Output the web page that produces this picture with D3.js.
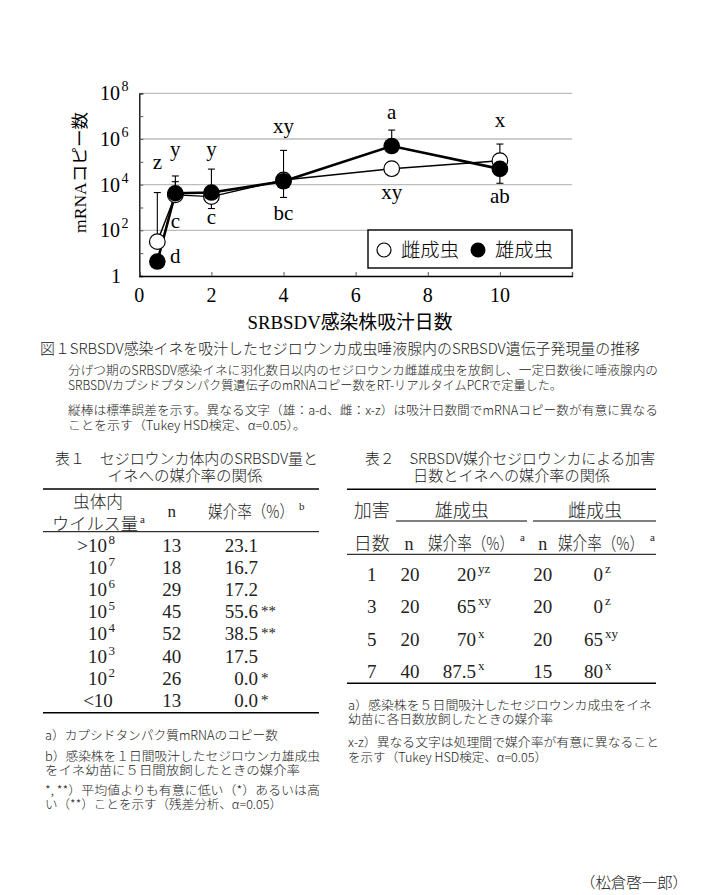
<!DOCTYPE html>
<html><head><meta charset="utf-8">
<script src="https://cdn.jsdelivr.net/npm/d3@7"></script>
<style>body{margin:0;background:#fff}svg{display:block}</style>
</head><body>
<script>
// ---------- data ----------
const days = [0.5, 1, 2, 4, 7, 10];
const femaleCopies = [32, 3550, 3000, 16000, 50000, 112000];
const maleCopies = [4.3, 4200, 4500, 14000, 490000, 49000];
const femaleErrHigh = [4500, 13500, null, null, null, 600000];
const maleErrHigh = [null, 24000, 48000, 316000, 2450000, null];
const maleErrLow = [null, 2000, 900, 2750, null, 11500];
const femaleLetters = ["z", "y", "y", "xy", "xy", "x"];
const femaleLetterAt = [49000, 178000, 178000, 1820000, 2340, 3470000];
const maleLetters = ["d", "c", "c", "bc", "a", "ab"];
const maleLetterAt = [3.8, 126, 190, 282, 7410000, 1620];
const xTicks = [0, 2, 4, 6, 8, 10, 12];
const xTickLabels = ["0", "2", "4", "6", "8", "10", ""];
const yTicks = [1, 1e1, 1e2, 1e3, 1e4, 1e5, 1e6, 1e7, 1e8];
const yLabelExp = [0, 2, 4, 6, 8];
const legendLabels = ["雌成虫", "雄成虫"];

const t1Virus = [[">10", "8"], ["10", "7"], ["10", "6"], ["10", "5"], ["10", "4"], ["10", "3"], ["10", "2"], ["<10", ""]];
const t1N = [13, 18, 29, 45, 52, 40, 26, 13];
const t1Rate = ["23.1", "16.7", "17.2", "55.6", "38.5", "17.5", "0.0", "0.0"];
const t1Sig = ["", "", "", "**", "**", "", "*", "*"];

const t2Days = [1, 3, 5, 7];
const t2MaleN = [20, 20, 20, 40];
const t2MaleRate = ["20", "65", "70", "87.5"];
const t2MaleSig = ["yz", "xy", "x", "x"];
const t2FemaleN = [20, 20, 20, 15];
const t2FemaleRate = ["0", "0", "65", "80"];
const t2FemaleSig = ["z", "z", "xy", "x"];

// ---------- setup ----------
const SERIF = "'Liberation Serif','Noto Sans CJK JP',serif";
const JP = "'Noto Sans CJK JP','Liberation Serif',sans-serif";
const svg = d3.select("body").append("svg").attr("width", 705).attr("height", 895);
svg.append("rect").attr("width", 705).attr("height", 895).attr("fill", "#fff");

const x = d3.scaleLinear().domain([0, 12]).range([139.3, 572]);
const y = d3.scaleLog().domain([1, 1e8]).range([276, 93.3]);

const g = svg.append("g");
g.selectAll(".grid").data([1e2, 1e4, 1e6, 1e8]).join("line")
  .attr("x1", x(0)).attr("x2", x(12)).attr("y1", d => y(d)).attr("y2", d => y(d))
  .attr("stroke", "#bdbdbd").attr("stroke-width", 1.3);

const yAxis = d3.axisLeft(y).tickValues(yTicks).tickSize(-4).tickFormat("");
g.append("g").attr("transform", `translate(${x(0)},0)`).call(yAxis)
  .call(s => { s.select(".domain").attr("stroke", "#000").attr("stroke-width", 1.3); s.selectAll(".tick line").attr("stroke", "#555"); });
const xAxis = d3.axisBottom(x).tickValues(xTicks).tickSize(-4).tickFormat("");
g.append("g").attr("transform", `translate(0,${y(1)})`).call(xAxis)
  .call(s => { s.select(".domain").attr("stroke", "#000").attr("stroke-width", 1.3); s.selectAll(".tick line").attr("stroke", "#555"); });

yLabelExp.forEach(e => {
  const yy = y(Math.pow(10, e)) + 7;
  if (e === 0) {
    g.append("text").attr("x", 121).attr("y", yy).attr("text-anchor", "end").attr("font-family", SERIF).attr("font-size", 20).text("1");
  } else {
    g.append("text").attr("x", 120).attr("y", yy).attr("text-anchor", "end").attr("font-family", SERIF).attr("font-size", 20).text("10");
    g.append("text").attr("x", 121.5).attr("y", yy - 9).attr("font-family", SERIF).attr("font-size", 14).text(e);
  }
});
xTicks.forEach((v, i) => {
  g.append("text").attr("x", x(v)).attr("y", 302).attr("text-anchor", "middle")
    .attr("font-family", SERIF).attr("font-size", 20).text(xTickLabels[i]);
});
g.append("text").attr("transform", `translate(86,172.5) rotate(-90)`).attr("text-anchor", "middle")
  .attr("font-family", SERIF).attr("font-size", 17).attr("textLength", 121).attr("lengthAdjust", "spacingAndGlyphs")
  .text("mRNAコピー数");
g.append("text").attr("x", 350).attr("y", 329).attr("text-anchor", "middle")
  .attr("font-family", SERIF).attr("font-size", 19).attr("textLength", 205).attr("lengthAdjust", "spacingAndGlyphs")
  .text("SRBSDV感染株吸汁日数");

function errBars(vals, highs, lows) {
  days.forEach((d, i) => {
    const cx = x(d);
    [highs, lows].forEach(arr => {
      if (arr && arr[i] != null) {
        g.append("line").attr("x1", cx).attr("x2", cx).attr("y1", y(vals[i])).attr("y2", y(arr[i])).attr("stroke", "#000").attr("stroke-width", 1.1);
        g.append("line").attr("x1", cx - 3.5).attr("x2", cx + 3.5).attr("y1", y(arr[i])).attr("y2", y(arr[i])).attr("stroke", "#000").attr("stroke-width", 1.1);
      }
    });
  });
}
errBars(femaleCopies, femaleErrHigh, null);
errBars(maleCopies, maleErrHigh, maleErrLow);

const line = d3.line().x(d => x(d[0])).y(d => y(d[1]));
g.append("path").datum(days.map((d, i) => [d, femaleCopies[i]])).attr("d", line)
  .attr("fill", "none").attr("stroke", "#000").attr("stroke-width", 1.4);
g.append("path").datum(days.map((d, i) => [d, maleCopies[i]])).attr("d", line)
  .attr("fill", "none").attr("stroke", "#000").attr("stroke-width", 2.6);

g.selectAll(".fpt").data(days).join("circle").attr("cx", d => x(d)).attr("cy", (d, i) => y(femaleCopies[i]))
  .attr("r", 7.8).attr("fill", "#fff").attr("stroke", "#000").attr("stroke-width", 1.2);
g.selectAll(".mpt").data(days).join("circle").attr("cx", d => x(d)).attr("cy", (d, i) => y(maleCopies[i]))
  .attr("r", 8.3).attr("fill", "#000");

days.forEach((d, i) => {
  g.append("text").attr("x", x(d)).attr("y", y(femaleLetterAt[i])).attr("text-anchor", "middle")
    .attr("font-family", SERIF).attr("font-size", 21).text(femaleLetters[i]);
  g.append("text").attr("x", x(d) + (i === 0 ? 18 : 0)).attr("y", y(maleLetterAt[i])).attr("text-anchor", "middle")
    .attr("font-family", SERIF).attr("font-size", 21).text(maleLetters[i]);
});

g.append("rect").attr("x", 368).attr("y", 230).attr("width", 204).attr("height", 38)
  .attr("fill", "#fff").attr("stroke", "#000").attr("stroke-width", 1.4);
g.append("circle").attr("cx", 384).attr("cy", 250).attr("r", 7).attr("fill", "#fff").attr("stroke", "#000").attr("stroke-width", 1.2);
g.append("text").attr("x", 401).attr("y", 257).attr("font-family", JP).attr("font-weight", 300).attr("font-size", 19).attr("textLength", 58).attr("lengthAdjust", "spacingAndGlyphs").text(legendLabels[0]);
g.append("circle").attr("cx", 478).attr("cy", 250).attr("r", 7.5).attr("fill", "#000");
g.append("text").attr("x", 495).attr("y", 257).attr("font-family", JP).attr("font-weight", 300).attr("font-size", 19).attr("textLength", 58).attr("lengthAdjust", "spacingAndGlyphs").text(legendLabels[1]);

function txt(str, xx, yy, size, opts = {}) {
  const t = svg.append("text").attr("x", xx).attr("y", yy).attr("font-family", opts.font || JP)
    .attr("font-size", size).attr("fill", "#222").attr("text-anchor", opts.anchor || "start").text(str);
  if (opts.len) t.attr("textLength", opts.len).attr("lengthAdjust", "spacingAndGlyphs");
  if (!opts.font) t.attr("font-weight", 300);
  return t;
}
function hline(x1, x2, yy, w) {
  svg.append("line").attr("x1", x1).attr("x2", x2).attr("y1", yy).attr("y2", yy).attr("stroke", "#000").attr("stroke-width", w);
}

txt("図１SRBSDV感染イネを吸汁したセジロウンカ成虫唾液腺内のSRBSDV遺伝子発現量の推移", 40, 354, 15, { len: 600 });
txt("分げつ期のSRBSDV感染イネに羽化数日以内のセジロウンカ雌雄成虫を放飼し、一定日数後に唾液腺内の", 68, 375, 12.5, { len: 590 });
txt("SRBSDVカプシドプタンパク質遺伝子のmRNAコピー数をRT-リアルタイムPCRで定量した。", 68, 390, 12.5, { len: 494 });
txt("縦棒は標準誤差を示す。異なる文字（雄：a-d、雌：x-z）は吸汁日数間でmRNAコピー数が有意に異なる", 68, 415, 12.5, { len: 590 });
txt("ことを示す（Tukey HSD検定、α=0.05）。", 68, 430, 12.5, { len: 238 });

// ---------- table 1 ----------
txt("表１　セジロウンカ体内のSRBSDV量と", 55, 464, 15, { len: 263 });
txt("イネへの媒介率の関係", 185, 481, 15, { anchor: "middle", len: 155 });
hline(43, 319, 489, 1.5);
txt("虫体内", 98, 508, 17, { anchor: "middle", len: 50 });
txt("ウイルス量", 52, 530, 17, { len: 86 });
txt("a", 140, 523, 11, { font: SERIF });
txt("n", 171.7, 517, 17, { anchor: "middle", font: SERIF });
txt("媒介率（%）", 208, 518, 17, { len: 86 });
txt("b", 299, 510, 11, { font: SERIF });
hline(43, 319, 531.7, 1);
t1N.forEach((n, i) => {
  const yy = 552 + 22.1 * i;
  const v = t1Virus[i];
  if (v[1]) {
    txt(v[0], 107, yy, 19, { anchor: "end", font: SERIF });
    txt(v[1], 108.5, yy - 8, 13, { font: SERIF });
  } else {
    txt(v[0], 98, yy, 19, { anchor: "middle", font: SERIF });
  }
  txt(String(n), 171.7, yy, 19, { anchor: "middle", font: SERIF });
  txt(t1Rate[i], 258, yy, 19, { anchor: "end", font: SERIF });
  if (t1Sig[i]) txt(t1Sig[i], 261, yy - 2, 15, { font: SERIF });
});
hline(43, 319, 712.7, 1.5);

txt("a）カプシドタンパク質mRNAのコピー数", 45, 739.5, 12.5, { len: 233 });
txt("b）感染株を１日間吸汁したセジロウンカ雄成虫", 45, 761, 12.5, { len: 275 });
txt("をイネ幼苗に５日間放飼したときの媒介率", 45, 775, 12.5, { len: 255 });
txt("*, **）平均値よりも有意に低い（*）あるいは高", 45, 795, 12.5, { len: 275 });
txt("い（**）ことを示す（残差分析、α=0.05）", 45, 809, 12.5, { len: 237 });

// ---------- table 2 ----------
txt("表２　SRBSDV媒介セジロウンカによる加害", 365, 464, 15, { len: 290 });
txt("日数とイネへの媒介率の関係", 511.5, 481, 15, { anchor: "middle", len: 197 });
hline(347, 656, 489.3, 1.5);
txt("加害", 371.7, 517, 18, { anchor: "middle", len: 36 });
txt("雄成虫", 461.7, 517, 18, { anchor: "middle", len: 54 });
hline(396, 527, 521, 1);
txt("雌成虫", 595, 517, 18, { anchor: "middle", len: 54 });
hline(533, 656, 521, 1);
txt("日数", 371.7, 550, 18, { anchor: "middle", len: 36 });
txt("n", 409, 550, 18, { anchor: "middle", font: SERIF });
txt("n", 542.7, 550, 18, { anchor: "middle", font: SERIF });
[428, 558].forEach(xx => {
  txt("媒介率（%）", xx, 550, 18, { len: 86 });
  txt("a", xx + 92, 541, 11, { font: SERIF });
});
hline(347, 656, 554.3, 1);
t2Days.forEach((d, i) => {
  const yy = [581, 613, 646, 678][i];
  txt(String(d), 371.7, yy, 19, { anchor: "middle", font: SERIF });
  txt(String(t2MaleN[i]), 410, yy, 19, { anchor: "middle", font: SERIF });
  txt(t2MaleRate[i], 476, yy, 19, { anchor: "end", font: SERIF });
  txt(t2MaleSig[i], 478, yy - 8, 13, { font: SERIF });
  txt(String(t2FemaleN[i]), 542.7, yy, 19, { anchor: "middle", font: SERIF });
  txt(t2FemaleRate[i], 603, yy, 19, { anchor: "end", font: SERIF });
  txt(t2FemaleSig[i], 605, yy - 8, 13, { font: SERIF });
});
hline(347, 656, 683.3, 1.5);

txt("a）感染株を５日間吸汁したセジロウンカ成虫をイネ", 348, 710, 12.5, { len: 304 });
txt("幼苗に各日数放飼したときの媒介率", 348, 724, 12.5, { len: 205 });
txt("x-z）異なる文字は処理間で媒介率が有意に異なること", 348, 747, 12.5, { len: 311 });
txt("を示す（Tukey HSD検定、α=0.05）", 348, 762, 12.5, { len: 199 });

txt("（松倉啓一郎）", 580, 888, 15, { len: 108 });
</script>
</body></html>
